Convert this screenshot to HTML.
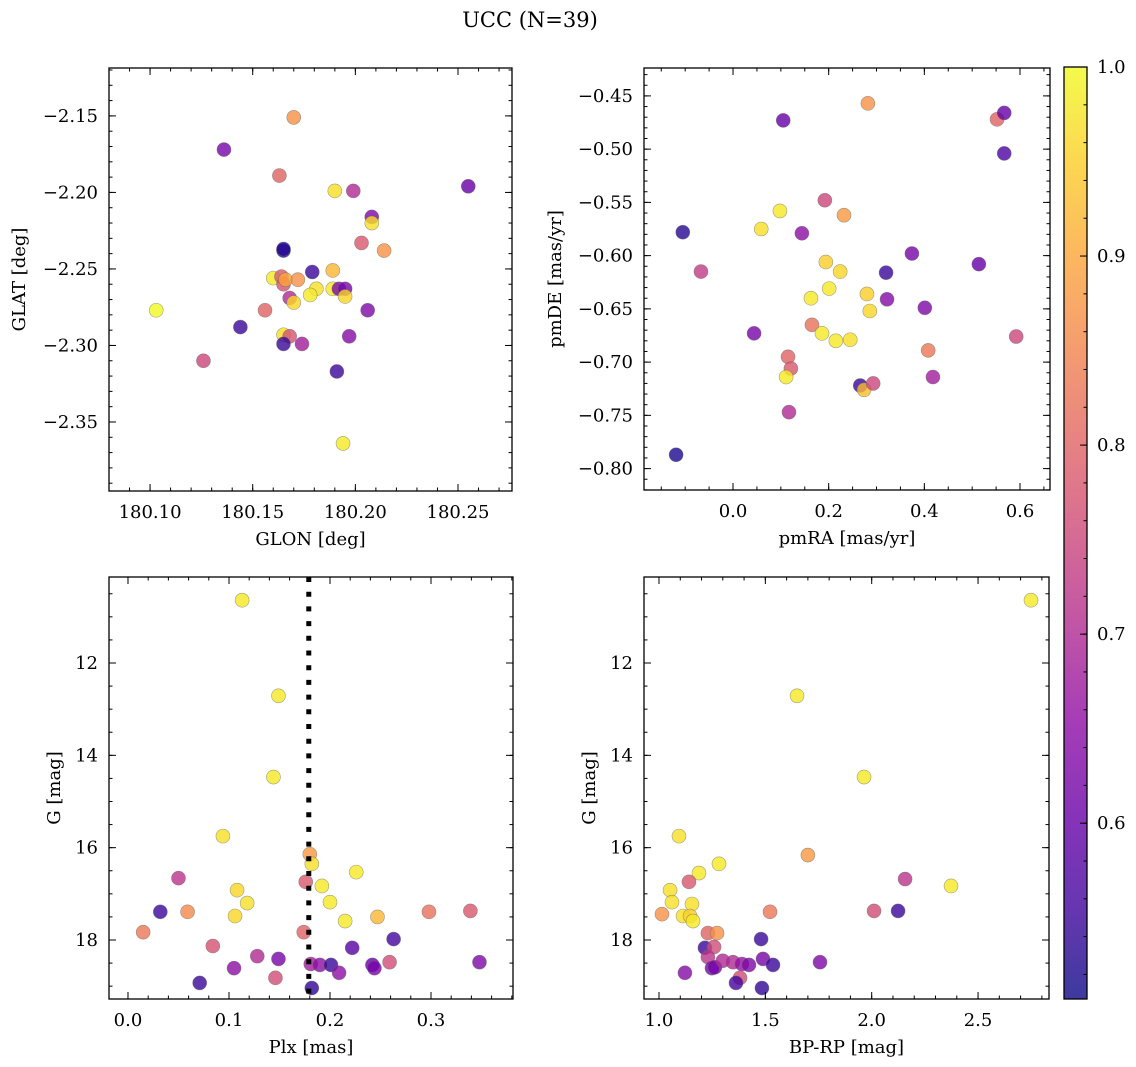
<!DOCTYPE html>
<html><head><meta charset="utf-8"><title>UCC (N=39)</title>
<style>
html,body{margin:0;padding:0;background:#fff;}
svg{display:block;font-family:"DejaVu Serif","Liberation Serif",serif;}
</style></head>
<body>
<svg id="fig" width="1136" height="1067" viewBox="0 0 1136 1067" xmlns="http://www.w3.org/2000/svg">
<defs>
<linearGradient id="plasmaGrad" x1="0" y1="1" x2="0" y2="0">
<stop offset="0" stop-color="#0d0887"/><stop offset="0.1" stop-color="#41049d"/><stop offset="0.2" stop-color="#6a00a8"/><stop offset="0.3" stop-color="#8f0da4"/><stop offset="0.4" stop-color="#b12a90"/><stop offset="0.5" stop-color="#cc4778"/><stop offset="0.6" stop-color="#e16462"/><stop offset="0.7" stop-color="#f2844b"/><stop offset="0.8" stop-color="#fca636"/><stop offset="0.9" stop-color="#fcce25"/><stop offset="1" stop-color="#f0f921"/>
</linearGradient>
</defs>
<text x="530" y="27" font-size="21" text-anchor="middle">UCC (N=39)</text>
</svg>
<script>
// ---- data: top-left (GLON / GLAT)
const tlGlon = [180.165,180.165,180.203,180.214,180.179,180.189,180.160,180.164,180.165,180.166,180.172,180.181,180.178,180.189,180.192,180.195,180.195,180.168,180.170,180.156,180.206,180.165,180.168,180.165,180.174,180.197,180.103,180.126,180.136,180.144,180.163,180.170,180.190,180.199,180.208,180.208,180.191,180.194,180.255];
const tlGlat = [-2.238,-2.237,-2.233,-2.238,-2.252,-2.251,-2.256,-2.255,-2.260,-2.257,-2.257,-2.263,-2.267,-2.263,-2.263,-2.263,-2.268,-2.269,-2.272,-2.277,-2.277,-2.293,-2.294,-2.299,-2.299,-2.294,-2.277,-2.310,-2.172,-2.288,-2.189,-2.151,-2.199,-2.199,-2.216,-2.220,-2.317,-2.364,-2.196];
const tlProb = [0.52,0.53,0.78,0.87,0.55,0.92,0.98,0.78,0.77,0.90,0.87,0.97,0.98,0.98,0.63,0.62,0.96,0.70,0.96,0.80,0.63,0.97,0.77,0.55,0.68,0.64,1.0,0.75,0.62,0.55,0.80,0.87,0.97,0.70,0.63,0.97,0.55,0.98,0.60];
// ---- data: top-right (pmRA / pmDE)
const trPmra = [-0.105,-0.067,-0.119,0.044,0.059,0.098,0.105,0.144,0.192,0.232,0.282,0.194,0.224,0.201,0.163,0.165,0.186,0.215,0.245,0.280,0.286,0.320,0.322,0.374,0.401,0.408,0.418,0.115,0.121,0.111,0.117,0.266,0.274,0.293,0.514,0.552,0.567,0.567,0.592];
const trPmde = [-0.578,-0.615,-0.787,-0.673,-0.575,-0.558,-0.473,-0.579,-0.548,-0.562,-0.457,-0.606,-0.615,-0.631,-0.640,-0.665,-0.673,-0.680,-0.679,-0.636,-0.652,-0.616,-0.641,-0.598,-0.649,-0.689,-0.714,-0.695,-0.706,-0.714,-0.747,-0.722,-0.726,-0.720,-0.608,-0.472,-0.466,-0.504,-0.676];
const trProb = [0.53,0.73,0.52,0.62,0.97,0.98,0.60,0.65,0.75,0.88,0.87,0.95,0.96,0.98,0.98,0.82,0.98,0.98,0.97,0.95,0.96,0.55,0.64,0.62,0.63,0.83,0.68,0.80,0.78,0.98,0.70,0.55,0.93,0.75,0.60,0.80,0.60,0.57,0.75];
// ---- data: bottom-left (Plx / G)
const blPlx = [0.015,0.059,0.032,0.050,0.071,0.084,0.094,0.105,0.108,0.106,0.118,0.113,0.128,0.149,0.146,0.144,0.149,0.180,0.182,0.226,0.176,0.192,0.200,0.215,0.247,0.174,0.222,0.181,0.190,0.201,0.209,0.242,0.244,0.182,0.263,0.298,0.339,0.259,0.348];
const blG = [17.83,17.39,17.39,16.66,18.93,18.13,15.75,18.61,16.92,17.48,17.20,10.64,18.35,18.41,18.82,14.47,12.71,16.14,16.35,16.53,16.74,16.83,17.18,17.59,17.50,17.83,18.17,18.52,18.54,18.54,18.71,18.54,18.61,19.04,17.98,17.39,17.37,18.48,18.48];
const blProb = [0.83,0.86,0.55,0.72,0.55,0.77,0.97,0.65,0.96,0.96,0.97,0.98,0.70,0.62,0.76,0.98,0.98,0.88,0.97,0.98,0.78,0.98,0.98,0.98,0.92,0.80,0.58,0.68,0.65,0.55,0.65,0.60,0.62,0.54,0.56,0.82,0.78,0.76,0.63];
const plxLine = [0.179];
// ---- data: bottom-right (BP-RP / G)
const brColor = [2.749,1.649,1.964,1.094,1.700,2.373,2.157,2.011,2.124,1.282,1.188,1.141,1.052,1.061,1.155,1.014,1.113,1.146,1.160,1.522,1.230,1.273,1.480,1.216,1.259,1.230,1.489,1.536,1.757,1.348,1.390,1.423,1.249,1.263,1.122,1.381,1.362,1.484,1.300];
const brG = [10.64,12.71,14.47,15.75,16.16,16.83,16.68,17.37,17.37,16.35,16.55,16.74,16.92,17.18,17.22,17.44,17.48,17.48,17.59,17.39,17.85,17.85,17.98,18.17,18.15,18.37,18.41,18.54,18.48,18.48,18.52,18.54,18.61,18.59,18.71,18.82,18.93,19.04,18.45];
const brProb = [0.98,0.98,0.98,0.97,0.88,0.98,0.72,0.76,0.55,0.98,0.98,0.78,0.97,0.97,0.97,0.87,0.97,0.95,0.98,0.83,0.80,0.87,0.55,0.55,0.76,0.72,0.62,0.55,0.63,0.70,0.66,0.63,0.62,0.62,0.64,0.76,0.56,0.54,0.70];
// ---- tick labels
const tlXTicks = ["180.10","180.15","180.20","180.25"];
const tlYTicks = ["-2.35","-2.30","-2.25","-2.20","-2.15"];
const trXTicks = ["0.0","0.2","0.4","0.6"];
const trYTicks = ["-0.80","-0.75","-0.70","-0.65","-0.60","-0.55","-0.50","-0.45"];
const blXTicks = ["0.0","0.1","0.2","0.3"];
const gYTicks = ["12","14","16","18"];
const brXTicks = ["1.0","1.5","2.0","2.5"];
const cbTicks = ["0.6","0.7","0.8","0.9","1.0"];
const cbMin = 0.507, cbMax = 1.0;

const FS = 18;
const NS = "http://www.w3.org/2000/svg";
const svg = document.getElementById('fig');
const plasma = ["#0d0887","#41049d","#6a00a8","#8f0da4","#b12a90","#cc4778","#e16462","#f2844b","#fca636","#fcce25","#f0f921"];
function hex(h){return [1,3,5].map(i=>parseInt(h.substr(i,2),16));}
function cmap(v){
  let t=(v-cbMin)/(cbMax-cbMin); t=Math.max(0,Math.min(1,t));
  const s=t*10, i=Math.min(9,Math.floor(s)), f=s-i;
  const a=hex(plasma[i]), b=hex(plasma[i+1]);
  return "rgb("+a.map((c,k)=>Math.round(c+(b[k]-c)*f)).join(",")+")";
}
function mk(tag, attrs, parent){
  const e=document.createElementNS(NS,tag);
  for(const k in attrs) e.setAttribute(k,attrs[k]);
  (parent||svg).appendChild(e); return e;
}
function fmt(s){return s.replace("-","\u2212");}

function panel(p){
  const g=mk('g',{});
  
  
  const sx=v=>p.x0+(v-p.xd[0])/(p.xd[1]-p.xd[0])*(p.x1-p.x0);
  const sy=v=>p.y1-(v-p.yd[0])/(p.yd[1]-p.yd[0])*(p.y1-p.y0);
  const pts=mk('g',{},g);
  
  
  for(let i=0;i<p.xs.length;i++){
    const c=mk('circle',{cx:sx(p.xs[i]),cy:sy(p.ys[i]),r:7,fill:cmap(p.cs[i]),'fill-opacity':0.8,stroke:'#666','stroke-opacity':0.6,'stroke-width':0.6},pts);
    
    
  }
  if(p.vline){
    const l=mk('line',{x1:sx(p.vline),x2:sx(p.vline),y1:p.y0,y2:p.y1,stroke:'#000','stroke-width':5,'stroke-dasharray':'5 9.7'},g);
    
    
  }
  const tk=mk('g',{stroke:'#000','stroke-width':1},g);
  
  
  const eps=1e-9;
  for(let v=Math.ceil(p.xd[0]/p.xmin-eps)*p.xmin; v<=p.xd[1]+eps; v+=p.xmin){
    const X=sx(v); if(X<p.x0||X>p.x1) continue;
    mk('line',{x1:X,x2:X,y1:p.y1,y2:p.y1-3.5},tk); mk('line',{x1:X,x2:X,y1:p.y0,y2:p.y0+3.5},tk);
  }
  for(let v=Math.ceil(p.yd[0]/p.ymin-eps)*p.ymin; v<=p.yd[1]+eps; v+=p.ymin){
    const Y=sy(v); if(Y<p.y0||Y>p.y1) continue;
    mk('line',{x1:p.x0,x2:p.x0+3.5,y1:Y,y2:Y},tk); mk('line',{x1:p.x1,x2:p.x1-3.5,y1:Y,y2:Y},tk);
  }
  p.xt.forEach(s=>{
    const X=sx(parseFloat(s));
    mk('line',{x1:X,x2:X,y1:p.y1,y2:p.y1-7},tk); mk('line',{x1:X,x2:X,y1:p.y0,y2:p.y0+7},tk);
    const t=mk('text',{x:X,y:p.y1+27,'font-size':FS,'text-anchor':'middle'},g); t.textContent=fmt(s);
    
    
  });
  p.yt.forEach(s=>{
    const Y=sy(parseFloat(s));
    mk('line',{x1:p.x0,x2:p.x0+7,y1:Y,y2:Y},tk); mk('line',{x1:p.x1,x2:p.x1-7,y1:Y,y2:Y},tk);
    const t=mk('text',{x:p.x0-11,y:Y+6,'font-size':FS,'text-anchor':'end'},g); t.textContent=fmt(s);
    
    
  });
  const fr=mk('rect',{x:p.x0,y:p.y0,width:p.x1-p.x0,height:p.y1-p.y0,fill:'none',stroke:'#000','stroke-width':1.3},g);
  
  
  const xl=mk('text',{x:(p.x0+p.x1)/2,y:p.y1+54,'font-size':FS,'text-anchor':'middle'},g); xl.textContent=p.xlab;
  
  
  const yl=mk('text',{x:0,y:0,'font-size':FS,'text-anchor':'middle',transform:`translate(${p.ylx},${(p.y0+p.y1)/2}) rotate(-90)`},g); yl.textContent=p.ylab;
  
  
}
panel({name:'glon-glat-panel',x0:109,x1:512,y0:68,y1:491,xd:[180.0800,180.2763],yd:[-2.3951,-2.1187],xs:tlGlon,ys:tlGlat,cs:tlProb,xt:tlXTicks,yt:tlYTicks,xmin:0.01,ymin:0.01,xlab:'GLON [deg]',ylab:'GLAT [deg]',ylx:25});
panel({name:'pm-panel',x0:644,x1:1050,y0:68,y1:490,xd:[-0.1861,0.6627],yd:[-0.8201,-0.4238],xs:trPmra,ys:trPmde,cs:trProb,xt:trXTicks,yt:trYTicks,xmin:0.05,ymin:0.01,xlab:'pmRA [mas/yr]',ylab:'pmDE [mas/yr]',ylx:561});
panel({name:'plx-g-panel',x0:109,x1:513,y0:577,y1:999,xd:[-0.0188,0.3812],yd:[-19.278,-10.137],xs:blPlx,ys:blG.map(v=>-v),cs:blProb,xt:[],yt:[],xmin:0.02,ymin:0.5,xlab:'Plx [mas]',ylab:'G [mag]',ylx:60,vline:plxLine[0]});
panel({name:'cmd-panel',x0:644,x1:1049,y0:577,y1:999,xd:[0.9295,2.8336],yd:[-19.278,-10.137],xs:brColor,ys:brG.map(v=>-v),cs:brProb,xt:brXTicks,yt:[],xmin:0.1,ymin:0.5,xlab:'BP-RP [mag]',ylab:'G [mag]',ylx:595});

function gAxis(x0,x1,xd,xt){
  const sy=v=>999-(19.278-v)/(19.278-10.137)*(999-577);
  const sx=v=>x0+(v-xd[0])/(xd[1]-xd[0])*(x1-x0);
  gYTicks.forEach(s=>{
    const Y=sy(parseFloat(s));
    mk('line',{x1:x0,x2:x0+7,y1:Y,y2:Y,stroke:'#000'}); mk('line',{x1:x1,x2:x1-7,y1:Y,y2:Y,stroke:'#000'});
    const t=mk('text',{x:x0-11,y:Y+6,'font-size':FS,'text-anchor':'end'}); t.textContent=s;
    
    
  });
  xt.forEach(s=>{
    const X=sx(parseFloat(s));
    mk('line',{x1:X,x2:X,y1:999,y2:992,stroke:'#000'}); mk('line',{x1:X,x2:X,y1:577,y2:584,stroke:'#000'});
    const t=mk('text',{x:X,y:1026,'font-size':FS,'text-anchor':'middle'}); t.textContent=s;
    
    
  });
}
gAxis(109,513,[-0.0188,0.3812],blXTicks);
gAxis(644,1049,[0.9295,2.8336],[]);

(function(){
  const x0=1064,x1=1087,y0=67,y1=999;
  const sy=v=>y1-(v-cbMin)/(cbMax-cbMin)*(y1-y0);
  const g=mk('g',{});
  
  
  mk('rect',{x:x0,y:y0,width:x1-x0,height:y1-y0,fill:'url(#plasmaGrad)','fill-opacity':0.8},g);
  for(let v=0.52; v<=1.0001; v+=0.02){ const Y=sy(v); mk('line',{x1:x1,x2:x1-3.5,y1:Y,y2:Y,stroke:'#000'},g); }
  cbTicks.forEach(s=>{
    const Y=sy(parseFloat(s));
    mk('line',{x1:x1,x2:x1-7,y1:Y,y2:Y,stroke:'#000'},g);
    const t=mk('text',{x:x1+10,y:Y+6,'font-size':FS},g); t.textContent=s;
    
    
  });
  mk('rect',{x:x0,y:y0,width:x1-x0,height:y1-y0,fill:'none',stroke:'#000','stroke-width':1.3},g);
})();
</script>
</body></html>
